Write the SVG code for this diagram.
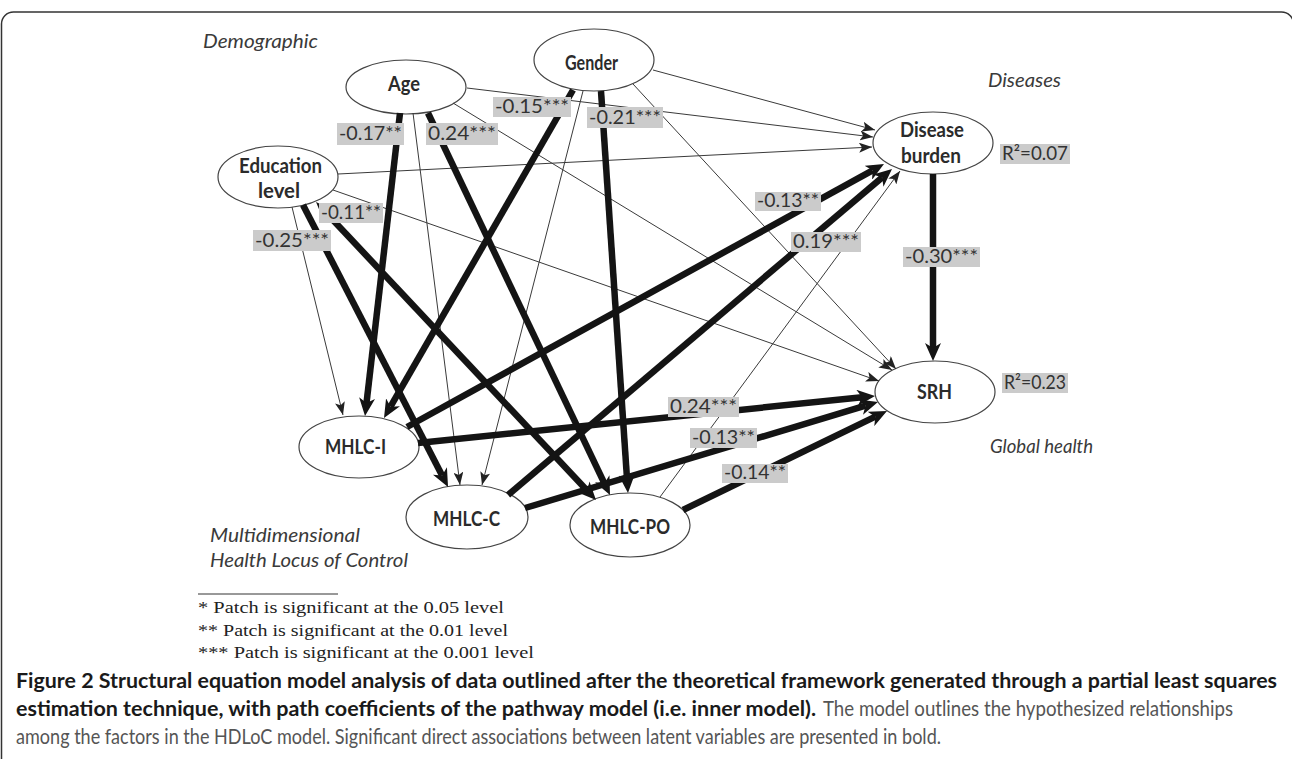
<svg xmlns="http://www.w3.org/2000/svg" width="1292" height="759" viewBox="0 0 1292 759">
<style>
.frame{fill:none;stroke:#333;stroke-width:1.5}
.node ellipse{fill:#fff;stroke:#444;stroke-width:1.2}
.nl{font-family:Lato,"Liberation Sans",sans-serif;font-weight:bold;font-size:20px;fill:#2b2b2b}
.gl{font-family:Lato,"Liberation Sans",sans-serif;font-style:italic;font-size:19px;fill:#3a3a3a}
.thick{stroke:#141414;stroke-width:6.5;fill:none;marker-end:url(#ah)}
.thin{stroke:#3a3a3a;stroke-width:1;fill:none;marker-end:url(#at)}
.lbox{fill:#cbcbcb}
.lt{font-family:Lato,"Liberation Sans",sans-serif;font-size:19px;fill:#333}
.fn{font-family:"Liberation Serif","Times New Roman",serif;font-size:17px;fill:#222}
.cb{font-family:"Liberation Sans Narrow",Lato,"Liberation Sans",sans-serif;font-weight:bold;font-size:21px;fill:#1a1a1a}
.cr{font-family:"Liberation Sans Narrow",Lato,"Liberation Sans",sans-serif;font-size:21px;fill:#555}
</style>
<defs>
<marker id="ah" markerUnits="userSpaceOnUse" viewBox="0 0 18 16" markerWidth="18" markerHeight="16" refX="5" refY="8" orient="auto"><path d="M0,0 L18,8 L0,16 L5,8 z" fill="#141414"/></marker>
<marker id="at" markerUnits="userSpaceOnUse" viewBox="0 0 13 10" markerWidth="13" markerHeight="10" refX="13" refY="5" orient="auto"><path d="M0,0 L13,5 L0,10 L3,5 z" fill="#222"/></marker>
<marker id="as" markerUnits="userSpaceOnUse" viewBox="0 0 13 10" markerWidth="13" markerHeight="10" refX="3" refY="5" orient="auto-start-reverse"><path d="M0,0 L13,5 L0,10 L3,5 z" fill="#141414"/></marker>
</defs>
<rect width="1292" height="759" fill="#fff"/>
<rect class="frame" x="1.5" y="12" width="1292" height="800" rx="12"/>

<g id="nodes">
<g id="age" class="node"><ellipse cx="406" cy="87" rx="60" ry="27"/><text class="nl" x="388" y="91" textLength="32" lengthAdjust="spacingAndGlyphs">Age</text></g>
<g id="gender" class="node"><ellipse cx="594" cy="60" rx="60" ry="31"/><text class="nl" x="565" y="70" textLength="53" lengthAdjust="spacingAndGlyphs">Gender</text></g>
<g id="education" class="node"><ellipse cx="278" cy="177" rx="60" ry="31"/><text class="nl" x="239" y="173" textLength="83" lengthAdjust="spacingAndGlyphs">Education</text><text class="nl" x="258" y="198" textLength="42" lengthAdjust="spacingAndGlyphs">level</text></g>
<g id="disease" class="node"><ellipse cx="933" cy="143" rx="60" ry="31"/><text class="nl" x="900" y="137" textLength="64" lengthAdjust="spacingAndGlyphs">Disease</text><text class="nl" x="901" y="163" textLength="60" lengthAdjust="spacingAndGlyphs">burden</text></g>
<g id="srh" class="node"><ellipse cx="935" cy="392" rx="60" ry="31"/><text class="nl" x="917" y="399" textLength="35" lengthAdjust="spacingAndGlyphs">SRH</text></g>
<g id="mhlc-i" class="node"><ellipse cx="359" cy="447" rx="60" ry="31"/><text class="nl" x="325" y="454" textLength="61" lengthAdjust="spacingAndGlyphs">MHLC-I</text></g>
<g id="mhlc-c" class="node"><ellipse cx="467" cy="517" rx="61" ry="32"/><text class="nl" x="433" y="526" textLength="67" lengthAdjust="spacingAndGlyphs">MHLC-C</text></g>
<g id="mhlc-po" class="node"><ellipse cx="630" cy="525" rx="60" ry="32"/><text class="nl" x="590" y="534" textLength="80" lengthAdjust="spacingAndGlyphs">MHLC-PO</text></g>
</g>

<g id="connectors">
<line class="thin" x1="653" y1="70" x2="875" y2="130"/>
<line class="thin" x1="467" y1="88" x2="873" y2="137"/>
<line class="thin" x1="338" y1="174" x2="872" y2="147"/>
<line class="thin" x1="453" y1="103" x2="892" y2="370"/>
<line class="thin" x1="633" y1="84" x2="896" y2="369"/>
<line class="thin" x1="333" y1="190" x2="879" y2="381"/>
<line class="thin" x1="413" y1="113" x2="460" y2="485"/>
<line class="thin" x1="583" y1="91" x2="482" y2="485"/>
<line class="thin" x1="292" y1="207" x2="343" y2="415"/>
<line class="thin" x1="660" y1="497" x2="900" y2="171"/>
<line class="thick" x1="400" y1="113" x2="366.5" y2="403.1"/>
<line class="thick" x1="428" y1="113" x2="604.4" y2="483.3"/>
<line class="thick" x1="573" y1="90" x2="390.5" y2="406.7"/>
<line class="thick" x1="601" y1="91" x2="627.1" y2="480"/>
<line class="thick" x1="303" y1="205" x2="442.1" y2="475.4"/>
<line class="thick" x1="322.9" y1="209.3" x2="587.1" y2="490.5" style="marker-start:url(#as)"/>
<line class="thick" x1="407" y1="427" x2="872.6" y2="170.3"/>
<line class="thick" x1="508" y1="495" x2="882.1" y2="177.4"/>
<line class="thick" x1="418" y1="443" x2="862.1" y2="397.3"/>
<line class="thick" x1="525" y1="508" x2="865.5" y2="405.7"/>
<line class="thick" x1="683" y1="510" x2="875.3" y2="416.7"/>
<line class="thick" x1="933" y1="174" x2="933" y2="348"/>
</g>

<g id="labels">
<rect class="lbox" x="337" y="123" width="67" height="22"/><text class="lt" x="339" y="140" textLength="63" lengthAdjust="spacingAndGlyphs">-0.17**</text>
<rect class="lbox" x="426" y="123" width="72" height="22"/><text class="lt" x="428" y="140" textLength="68" lengthAdjust="spacingAndGlyphs">0.24***</text>
<rect class="lbox" x="493" y="97" width="78" height="20"/><text class="lt" x="495" y="113" textLength="74" lengthAdjust="spacingAndGlyphs">-0.15***</text>
<rect class="lbox" x="587" y="107" width="76" height="21"/><text class="lt" x="589" y="124" textLength="72" lengthAdjust="spacingAndGlyphs">-0.21***</text>
<rect class="lbox" x="319" y="203" width="64" height="20"/><text class="lt" x="321" y="219" textLength="60" lengthAdjust="spacingAndGlyphs">-0.11**</text>
<rect class="lbox" x="253" y="230" width="78" height="21"/><text class="lt" x="255" y="247" textLength="74" lengthAdjust="spacingAndGlyphs">-0.25***</text>
<rect class="lbox" x="755" y="192" width="66" height="19"/><text class="lt" x="757" y="207" textLength="62" lengthAdjust="spacingAndGlyphs">-0.13**</text>
<rect class="lbox" x="791" y="232" width="70" height="20"/><text class="lt" x="793" y="248" textLength="66" lengthAdjust="spacingAndGlyphs">0.19***</text>
<rect class="lbox" x="903" y="247" width="77" height="20"/><text class="lt" x="905" y="263" textLength="73" lengthAdjust="spacingAndGlyphs">-0.30***</text>
<rect class="lbox" x="668" y="397" width="71" height="20"/><text class="lt" x="670" y="413" textLength="67" lengthAdjust="spacingAndGlyphs">0.24***</text>
<rect class="lbox" x="690" y="428" width="67" height="20"/><text class="lt" x="692" y="444" textLength="63" lengthAdjust="spacingAndGlyphs">-0.13**</text>
<rect class="lbox" x="722" y="464" width="66" height="19"/><text class="lt" x="724" y="479" textLength="62" lengthAdjust="spacingAndGlyphs">-0.14**</text>
<rect class="lbox" x="1000" y="144" width="70" height="20"/><text class="lt" x="1002" y="160" textLength="66" lengthAdjust="spacingAndGlyphs">R²=0.07</text>
<rect class="lbox" x="1002" y="373" width="66" height="20"/><text class="lt" x="1004" y="389" textLength="62" lengthAdjust="spacingAndGlyphs">R²=0.23</text>
</g>

<g id="groups">
<text class="gl" x="203" y="48" textLength="115" lengthAdjust="spacingAndGlyphs">Demographic</text>
<text class="gl" x="988" y="87" textLength="73" lengthAdjust="spacingAndGlyphs">Diseases</text>
<text class="gl" x="990" y="453" textLength="103" lengthAdjust="spacingAndGlyphs">Global health</text>
<text class="gl" x="210" y="542" textLength="150" lengthAdjust="spacingAndGlyphs">Multidimensional</text>
<text class="gl" x="210" y="567" textLength="198" lengthAdjust="spacingAndGlyphs">Health Locus of Control</text>
</g>

<g id="footnotes">
<line x1="198" y1="594" x2="338" y2="594" stroke="#333" stroke-width="1"/>
<text class="fn" x="198" y="613" textLength="306" lengthAdjust="spacingAndGlyphs">* Patch is significant at the 0.05 level</text>
<text class="fn" x="198" y="636" textLength="310" lengthAdjust="spacingAndGlyphs">** Patch is significant at the 0.01 level</text>
<text class="fn" x="198" y="658" textLength="336" lengthAdjust="spacingAndGlyphs">*** Patch is significant at the 0.001 level</text>
</g>

<g id="caption">
<text class="cb" x="16" y="688" textLength="1261" lengthAdjust="spacingAndGlyphs">Figure 2 Structural equation model analysis of data outlined after the theoretical framework generated through a partial least squares</text>
<text class="cb" x="16" y="716" textLength="800" lengthAdjust="spacingAndGlyphs">estimation technique, with path coefficients of the pathway model (i.e. inner model).</text>
<text class="cr" x="823" y="716" textLength="410" lengthAdjust="spacingAndGlyphs">The model outlines the hypothesized relationships</text>
<text class="cr" x="16" y="744" textLength="925" lengthAdjust="spacingAndGlyphs">among the factors in the HDLoC model. Significant direct associations between latent variables are presented in bold.</text>
</g>
</svg>
